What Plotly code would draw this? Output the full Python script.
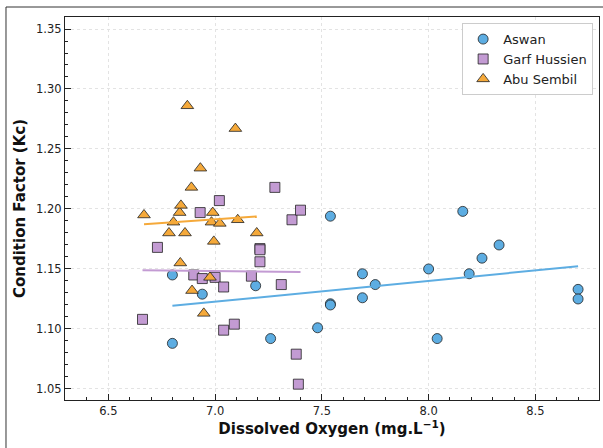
import numpy as np
import plotly.graph_objects as go

# ---- data ----
aswan_x = [6.80, 6.80, 6.94, 7.19, 7.26, 7.48, 7.54, 7.54, 7.54, 7.69, 7.69, 7.75, 8.00, 8.04, 8.16, 8.19, 8.25, 8.33, 8.70, 8.70]
aswan_y = [1.145, 1.088, 1.129, 1.136, 1.092, 1.101, 1.194, 1.121, 1.120, 1.146, 1.126, 1.137, 1.150, 1.092, 1.198, 1.146, 1.159, 1.170, 1.133, 1.125]

garf_x = [6.66, 6.73, 6.90, 6.93, 6.94, 7.00, 7.02, 7.04, 7.04, 7.09, 7.17, 7.21, 7.21, 7.21, 7.28, 7.31, 7.36, 7.38, 7.39, 7.40]
garf_y = [1.108, 1.168, 1.145, 1.197, 1.142, 1.143, 1.207, 1.135, 1.099, 1.104, 1.144, 1.167, 1.166, 1.156, 1.218, 1.137, 1.191, 1.079, 1.054, 1.199]

abu_x = [6.667, 6.784, 6.805, 6.834, 6.84, 6.837, 6.859, 6.870, 6.889, 6.892, 6.931, 6.947, 6.983, 6.976, 6.989, 6.994, 7.022, 7.095, 7.106, 7.195]
abu_y = [1.195, 1.180, 1.189, 1.197, 1.203, 1.155, 1.180, 1.286, 1.218, 1.132, 1.234, 1.113, 1.189, 1.143, 1.197, 1.173, 1.188, 1.267, 1.191, 1.180]

series_names = ["Aswan", "Garf Hussien", "Abu Sembil"]
x_ticks = [6.5, 7.0, 7.5, 8.0, 8.5]
y_ticks = [1.05, 1.10, 1.15, 1.20, 1.25, 1.30, 1.35]

colors = ["#5DADE2", "#C39BD3", "#F5A93A"]
symbols = ["circle", "square", "triangle-up"]
sizes = [10, 10, 11]

FONT = "DejaVu Sans"
fig = go.Figure()

datasets = [(aswan_x, aswan_y), (garf_x, garf_y), (abu_x, abu_y)]
for (xs, ys), name, c, s, sz in zip(datasets, series_names, colors, symbols, sizes):
    fig.add_trace(go.Scatter(
        x=xs, y=ys, mode="markers", name=name,
        marker=dict(color=c, symbol=s, size=sz, line=dict(color="#222", width=0.8)),
    ))

for (xs, ys), c in zip(datasets, colors):
    xa = np.array(xs); ya = np.array(ys)
    m, b = np.polyfit(xa, ya, 1)
    lx = np.array([xa.min(), xa.max()])
    fig.add_trace(go.Scatter(x=lx, y=m * lx + b, mode="lines", showlegend=False,
                             line=dict(color=c, width=2), hoverinfo="skip"))

axis_common = dict(
    showline=True, linecolor="#222", linewidth=1.2, mirror=True,
    ticks="inside", ticklen=6, tickwidth=1.2, tickcolor="#222",
    showgrid=True, gridcolor="#e3e3e3", griddash="dot", gridwidth=1,
    zeroline=False,
    tickfont=dict(family=FONT, size=11.5, color="#222"),
)

fig.update_xaxes(
    range=[6.297, 8.798], tickvals=x_ticks, ticktext=[f"{v:.1f}" for v in x_ticks],
    minor=dict(dtick=0.1, tick0=6.3, ticks="inside", ticklen=3, tickcolor="#222", showgrid=False),
    title=dict(text="<b>Dissolved Oxygen (mg.L<sup>−1</sup>)</b>", font=dict(family=FONT, size=15, color="#111"), standoff=6),
    automargin=False,
    **axis_common,
)
fig.update_yaxes(
    range=[1.0408, 1.36], tickvals=y_ticks, ticktext=[f"{v:.2f}" for v in y_ticks],
    minor=dict(dtick=0.01, tick0=1.0, ticks="inside", ticklen=3, tickcolor="#222", showgrid=False),
    title=dict(text="<b>Condition Factor (Kc)</b>", font=dict(family=FONT, size=15, color="#111"), standoff=6),
    automargin=False,
    **axis_common,
)

# outer figure frame (left and top edges visible)
fig.add_shape(type="line", xref="paper", yref="paper", x0=-0.1105, x1=-0.1105, y0=-0.2, y1=1.0261,
              line=dict(color="#333", width=1))
fig.add_shape(type="line", xref="paper", yref="paper", x0=-0.1105, x1=1.05, y0=1.0261, y1=1.0261,
              line=dict(color="#333", width=1))

fig.update_layout(
    width=603, height=448,
    margin=dict(l=65, r=4, t=17, b=48),
    paper_bgcolor="white", plot_bgcolor="white",
    font=dict(family=FONT, color="#222"),
    legend=dict(
        x=0.989, y=0.984, xanchor="right", yanchor="top",
        bgcolor="white", bordercolor="#cccccc", borderwidth=1,
        font=dict(family=FONT, size=13, color="#222"),
        tracegroupgap=0,
    ),
)

fig.write_html("out.html")
